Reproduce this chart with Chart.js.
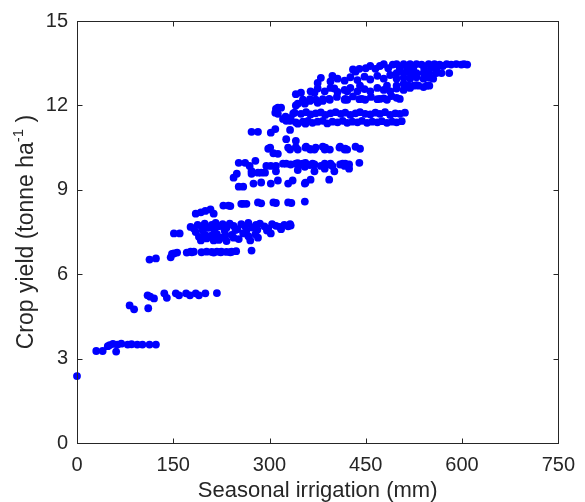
<!DOCTYPE html>
<html>
<head>
<meta charset="utf-8">
<script src="https://cdn.jsdelivr.net/npm/chart.js@4.4.1/dist/chart.umd.min.js"></script>
<style>
  html, body { margin: 0; padding: 0; background: #fff; }
  #wrap { width: 585px; height: 502px; }
</style>
</head>
<body>
<div id="wrap"><canvas id="yieldChart" width="585" height="502"></canvas></div>
<script>
// axis ticks
const xTicks = [0, 150, 300, 450, 600, 750];
const yTicks = [0, 3, 6, 9, 12, 15];

// points, grouped by yield band (x = irrigation mm, y = tonne/ha)
const row0_x = [0];
const row0_y = [2.38];
const row1_x = [30, 40, 61];
const row1_y = [3.27, 3.27, 3.25];
const row2_x = [48, 51, 56, 63, 69, 79, 85, 94, 102, 113, 123];
const row2_y = [3.44, 3.48, 3.52, 3.5, 3.53, 3.5, 3.51, 3.5, 3.5, 3.5, 3.5];
const row3_x = [82, 89, 111];
const row3_y = [4.89, 4.75, 4.79];
const row4_x = [110, 114, 120, 136, 140, 154, 159, 170, 176, 185, 190, 200, 218];
const row4_y = [5.25, 5.2, 5.14, 5.32, 5.16, 5.32, 5.25, 5.32, 5.25, 5.32, 5.25, 5.32, 5.33];
const row5_x = [113, 123, 146, 148, 151, 156, 171, 177, 179, 182, 194, 202, 210, 213, 218, 224, 225, 233, 239, 241, 248, 272];
const row5_y = [6.52, 6.56, 6.6, 6.72, 6.74, 6.77, 6.77, 6.8, 6.78, 6.8, 6.78, 6.8, 6.79, 6.77, 6.8, 6.78, 6.8, 6.79, 6.78, 6.8, 6.82, 6.84];
const row6_x = [151, 160, 185, 190, 193, 200, 202, 210, 213, 218, 221, 225, 231, 233, 241, 244, 252, 259, 267, 270, 278, 282, 302];
const row6_y = [7.45, 7.45, 7.5, 7.33, 7.2, 7.4, 7.27, 7.38, 7.2, 7.42, 7.22, 7.3, 7.38, 7.18, 7.4, 7.3, 7.25, 7.45, 7.35, 7.2, 7.42, 7.3, 7.45];
const row7_x = [177, 182, 188, 194, 199, 205, 210, 216, 221, 227, 233, 238, 244, 250, 256, 262, 267, 273, 279, 285, 292, 298, 304, 310, 316, 318, 323, 329, 332, 333, 196, 214, 230, 247, 264, 281, 296];
const row7_y = [7.68, 7.62, 7.75, 7.7, 7.8, 7.65, 7.75, 7.82, 7.7, 7.78, 7.65, 7.8, 7.72, 7.6, 7.78, 7.7, 7.82, 7.66, 7.75, 7.8, 7.7, 7.62, 7.78, 7.72, 7.68, 7.6, 7.75, 7.7, 7.78, 7.73, 7.55, 7.58, 7.55, 7.57, 7.55, 7.58, 7.55];
const row8_x = [185, 193, 200, 208, 213, 228, 236, 239, 256, 259, 264, 282, 287, 306, 310, 329, 334, 355];
const row8_y = [8.15, 8.2, 8.25, 8.3, 8.15, 8.44, 8.44, 8.42, 8.5, 8.5, 8.5, 8.55, 8.52, 8.55, 8.53, 8.55, 8.53, 8.58];
const row9_x = [244, 249, 252, 259, 272, 275, 282, 287, 293, 302, 313, 329, 336, 355, 356, 364, 393];
const row9_y = [9.43, 9.57, 9.11, 9.11, 9.57, 9.22, 9.61, 9.26, 9.61, 9.22, 9.33, 9.22, 9.33, 9.22, 9.25, 9.36, 9.36];
const row10_x = [252, 262, 269, 272, 278, 287, 295, 302, 310, 310, 321, 326, 333, 341, 344, 344, 349, 352, 355, 356, 363, 367, 370, 370, 380, 386, 386, 394, 395, 398, 401, 410, 414, 417, 418, 424, 424, 440];
const row10_y = [9.96, 9.96, 9.85, 9.66, 10.03, 9.61, 9.85, 9.85, 9.85, 9.66, 9.93, 9.93, 9.9, 9.93, 9.7, 9.95, 9.9, 9.93, 9.82, 9.96, 9.88, 9.93, 9.66, 9.9, 9.85, 9.93, 9.75, 9.9, 9.93, 9.85, 9.66, 9.9, 9.93, 9.85, 9.93, 9.75, 9.9, 9.96];
const row11_x = [298, 301, 306, 313, 326, 329, 332, 341, 341, 344, 356, 357, 363, 364, 370, 372, 383, 386, 387, 394, 409, 410, 417, 418, 421, 434, 441];
const row11_y = [10.46, 10.5, 10.3, 10.28, 10.8, 10.5, 10.43, 10.74, 10.52, 10.43, 10.5, 10.53, 10.45, 10.43, 10.43, 10.5, 10.53, 10.43, 10.5, 10.43, 10.5, 10.53, 10.43, 10.46, 10.43, 10.53, 10.46];
const row12_x = [272, 282, 302, 309, 332];
const row12_y = [11.06, 11.06, 11.03, 11.16, 11.13];
const row13_x = [309, 313, 325, 337, 339, 349, 357, 364, 372, 380, 387, 395, 403, 411, 418, 426, 434, 441, 449, 457, 465, 472, 480, 488, 496, 503, 511];
const row13_y = [11.74, 11.7, 11.6, 11.72, 11.74, 11.7, 11.76, 11.68, 11.72, 11.75, 11.66, 11.72, 11.76, 11.7, 11.74, 11.66, 11.72, 11.76, 11.7, 11.68, 11.74, 11.7, 11.76, 11.66, 11.72, 11.7, 11.74];
const row14_x = [321, 326, 332, 333, 341, 344, 352, 356, 360, 367, 375, 383, 390, 398, 406, 414, 421, 429, 437, 444, 452, 460, 468, 475, 483, 491, 498, 506];
const row14_y = [11.52, 11.45, 11.45, 11.56, 11.4, 11.35, 11.42, 11.35, 11.45, 11.38, 11.42, 11.45, 11.36, 11.42, 11.4, 11.45, 11.38, 11.42, 11.4, 11.45, 11.38, 11.42, 11.4, 11.44, 11.38, 11.42, 11.4, 11.44];
const row15_x = [310, 313, 318, 341, 344, 352, 355, 363, 363, 372, 375, 383, 383, 393, 394, 417, 418, 421, 440, 444, 449, 468, 472, 478, 483, 498, 503, 405, 430, 458, 490];
const row15_y = [11.88, 11.92, 11.92, 12.0, 12.06, 12.2, 12.06, 12.16, 12.22, 12.2, 12.09, 12.16, 12.22, 12.23, 12.2, 12.2, 12.23, 12.2, 12.22, 12.23, 12.2, 12.22, 12.23, 12.25, 12.2, 12.27, 12.23, 12.3, 12.32, 12.3, 12.33];
const row16_x = [341, 349, 364, 370, 375, 386, 395, 401, 406, 417, 421, 426, 437, 441, 448, 457, 468, 478, 483, 488, 498, 498, 509, 509, 517, 519, 525, 529, 532, 540, 545, 549];
const row16_y = [12.4, 12.45, 12.5, 12.45, 12.6, 12.5, 12.62, 12.6, 12.48, 12.55, 12.5, 12.62, 12.5, 12.7, 12.58, 12.5, 12.62, 12.55, 12.7, 12.5, 12.6, 12.7, 12.55, 12.77, 12.7, 12.62, 12.7, 12.72, 12.7, 12.65, 12.7, 12.7];
const row17_x = [375, 380, 395, 398, 406, 417, 426, 434, 437, 448, 457, 468, 478, 488, 498, 498, 509, 509, 519, 519, 529, 529, 540, 540, 549, 549, 555, 560, 568, 580];
const row17_y = [12.8, 12.98, 12.85, 13.05, 12.95, 12.88, 13.0, 13.2, 12.9, 13.02, 12.92, 13.05, 12.95, 13.08, 12.95, 13.15, 12.98, 13.15, 12.95, 13.15, 13.0, 13.15, 12.95, 13.15, 12.98, 13.15, 12.95, 13.15, 13.15, 13.15];
const row18_x = [430, 440, 450, 457, 465, 472, 478, 485, 492, 498, 503, 509, 514, 519, 524, 529, 537, 541, 548, 552, 557, 560, 565, 570, 576, 583, 591, 599, 603, 608];
const row18_y = [13.28, 13.3, 13.32, 13.4, 13.3, 13.4, 13.47, 13.32, 13.45, 13.47, 13.3, 13.47, 13.35, 13.47, 13.3, 13.47, 13.45, 13.3, 13.47, 13.35, 13.47, 13.3, 13.45, 13.4, 13.47, 13.45, 13.47, 13.45, 13.47, 13.45];

const rowsX = [row0_x, row1_x, row2_x, row3_x, row4_x, row5_x, row6_x, row7_x, row8_x, row9_x, row10_x, row11_x, row12_x, row13_x, row14_x, row15_x, row16_x, row17_x, row18_x];
const rowsY = [row0_y, row1_y, row2_y, row3_y, row4_y, row5_y, row6_y, row7_y, row8_y, row9_y, row10_y, row11_y, row12_y, row13_y, row14_y, row15_y, row16_y, row17_y, row18_y];

const points = [];
rowsX.forEach((xs, r) => {
    xs.forEach((xv, i) => points.push({ x: xv, y: rowsY[r][i] }));
});

const axisColor = "#262626";
const fontFamily = "'Liberation Sans', Arial, Helvetica, sans-serif";

// matlab style box + inward ticks + y label with superscript
const matlabAxes = {
    id: "matlabAxes",
    afterDatasetsDraw(chart) {
        const { ctx, chartArea: a, scales: { x, y } } = chart;
        ctx.save();
        ctx.strokeStyle = axisColor;
        ctx.lineWidth = 1;
        const L = Math.round(a.left) + 0.5, R = Math.round(a.right) + 0.5;
        const T = Math.round(a.top) + 0.5, B = Math.round(a.bottom) + 0.5;
        ctx.strokeRect(L, T, R - L, B - T);
        ctx.beginPath();
        xTicks.forEach(v => {
            const px = Math.round(x.getPixelForValue(v)) + 0.5;
            ctx.moveTo(px, B); ctx.lineTo(px, B - 5);
            ctx.moveTo(px, T); ctx.lineTo(px, T + 5);
        });
        yTicks.forEach(v => {
            const py = Math.round(y.getPixelForValue(v)) + 0.5;
            ctx.moveTo(L, py); ctx.lineTo(L + 5, py);
            ctx.moveTo(R, py); ctx.lineTo(R - 5, py);
        });
        ctx.stroke();

        // y title
        const big = "23px " + fontFamily, small = "15px " + fontFamily;
        const p1 = "Crop yield (tonne ha", p2 = "-1", p3 = " )";
        ctx.font = big; const w1 = ctx.measureText(p1).width, w3 = ctx.measureText(p3).width;
        ctx.font = small; const w2 = ctx.measureText(p2).width;
        const total = w1 + w2 + w3;
        ctx.translate(27, (a.top + a.bottom) / 2);
        ctx.rotate(-Math.PI / 2);
        ctx.fillStyle = axisColor;
        ctx.textBaseline = "middle";
        ctx.textAlign = "left";
        let cx = -total / 2;
        ctx.font = big; ctx.fillText(p1, cx, 0); cx += w1;
        ctx.font = small; ctx.fillText(p2, cx, -8); cx += w2;
        ctx.font = big; ctx.fillText(p3, cx, 0);
        ctx.restore();
    }
};

new Chart(document.getElementById("yieldChart"), {
    type: "scatter",
    data: {
        datasets: [{
            data: points,
            backgroundColor: "#0000ff",
            borderColor: "#0000ff",
            borderWidth: 0,
            pointRadius: 3.9,
            pointHoverRadius: 3.9,
            clip: false
        }]
    },
    options: {
        responsive: false,
        animation: false,
        devicePixelRatio: 1,
        layout: { padding: { top: 20, right: 22, left: 0, bottom: 0 } },
        plugins: { legend: { display: false }, tooltip: { enabled: false } },
        scales: {
            x: {
                type: "linear",
                min: 0, max: 750,
                afterBuildTicks: s => { s.ticks = xTicks.map(v => ({ value: v })); },
                afterFit: s => { s.height = 59; },
                grid: { display: false, drawTicks: false },
                border: { display: false },
                ticks: { color: axisColor, padding: 10, font: { family: fontFamily, size: 20 } },
                title: {
                    display: true,
                    text: "Seasonal irrigation (mm)",
                    color: axisColor,
                    font: { family: fontFamily, size: 22, lineHeight: 1 },
                    padding: { top: 0, bottom: 0 }
                }
            },
            y: {
                type: "linear",
                min: 0, max: 15,
                afterBuildTicks: s => { s.ticks = yTicks.map(v => ({ value: v })); },
                afterFit: s => { s.width = 77; },
                grid: { display: false, drawTicks: false },
                border: { display: false },
                ticks: { color: axisColor, padding: 9, font: { family: fontFamily, size: 20 } }
            }
        }
    },
    plugins: [matlabAxes]
});
</script>
</body>
</html>
